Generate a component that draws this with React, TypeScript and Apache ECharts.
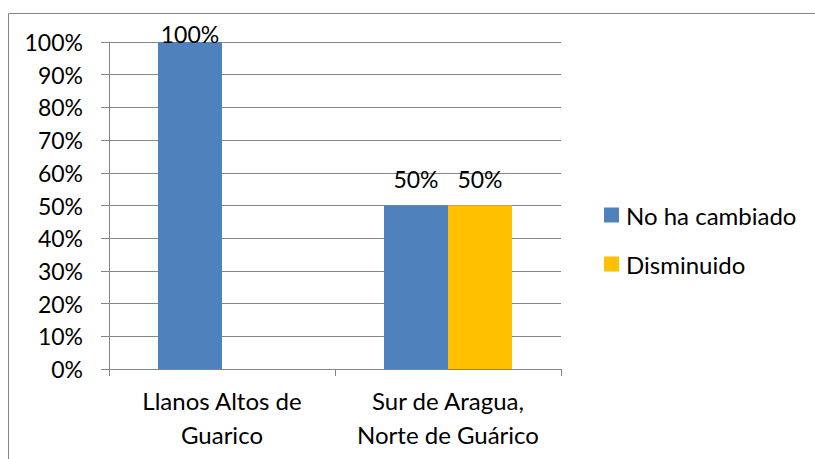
import React, { useEffect, useRef } from "react";
import * as echarts from "echarts";

const categories = ["Llanos Altos de\nGuarico", "Sur de Aragua,\nNorte de Guárico"];
const seriesNames = ["No ha cambiado", "Disminuido"];
const noHaCambiado = [100, 50];
const disminuido = [0, 50];
const seriesColors = ["#4F81BD", "#FFC000"];

const FONT = "Lato, 'Open Sans', sans-serif";

export default function App() {
  const ref = useRef<HTMLDivElement>(null);
  useEffect(() => {
    if (!ref.current) return;
    const chart = echarts.init(ref.current, null, { renderer: "svg" });
    const mkData = (vals: number[]) =>
      vals.map((v) => (v >= 100 ? { value: v, label: { distance: -3 } } : v));
    const labelCfg = {
      show: true,
      position: "top",
      distance: 15,
      color: "#000",
      fontFamily: FONT,
      fontSize: 23,
      formatter: (p: any) => (p.value ? `${p.value}%` : ""),
    };
    chart.setOption({
      animation: false,
      backgroundColor: "#fff",
      textStyle: { fontFamily: FONT },
      graphic: [
        {
          type: "rect",
          shape: { x: 8.5, y: 13.5, width: 1000, height: 1000 },
          style: { fill: "none", stroke: "#868686", lineWidth: 1 },
          silent: true,
        },
      ],
      grid: { left: 109, right: 254, top: 42, bottom: 90, containLabel: false },
      legend: {
        orient: "vertical",
        left: 604,
        top: 203,
        padding: 0,
        itemWidth: 15,
        itemHeight: 15,
        itemGap: 25,
        icon: "rect",
        data: seriesNames,
        textStyle: { fontFamily: FONT, fontSize: 24, color: "#000", lineHeight: 24, padding: [0, 0, 0, 2] },
      },
      xAxis: {
        type: "category",
        data: categories,
        axisLine: { lineStyle: { color: "#868686", width: 1 } },
        axisTick: { show: true, length: 7, lineStyle: { color: "#868686" } },
        axisLabel: {
          interval: 0,
          hideOverlap: false,
          color: "#000",
          fontFamily: FONT,
          fontSize: 24,
          lineHeight: 34,
          margin: 14,
        },
      },
      yAxis: {
        type: "value",
        min: 0,
        max: 100,
        interval: 10,
        axisLine: { show: true, lineStyle: { color: "#868686", width: 1 } },
        axisTick: { show: true, length: 8, lineStyle: { color: "#868686" } },
        splitLine: { show: true, lineStyle: { color: "#868686", width: 1 } },
        axisLabel: {
          color: "#000",
          fontFamily: FONT,
          fontSize: 23,
          margin: 26,
          formatter: "{value}%",
        },
      },
      series: [
        {
          name: seriesNames[0],
          type: "bar",
          data: mkData(noHaCambiado),
          itemStyle: { color: seriesColors[0] },
          barWidth: 64,
          barGap: "0%",
          label: labelCfg,
        },
        {
          name: seriesNames[1],
          type: "bar",
          data: mkData(disminuido),
          itemStyle: { color: seriesColors[1] },
          barWidth: 64,
          barGap: "0%",
          label: labelCfg,
        },
      ],
    });
    return () => chart.dispose();
  }, []);
  return (
    <div
      ref={ref}
      style={{ position: "fixed", left: 0, top: 0, width: 815, height: 459 }}
    />
  );
}
